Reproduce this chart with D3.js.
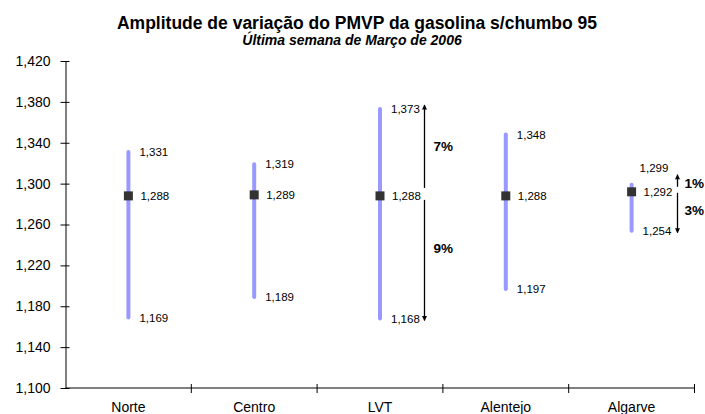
<!DOCTYPE html>
<html><head><meta charset="utf-8">
<script src="https://cdn.jsdelivr.net/npm/d3@7"></script>
<style>
html,body{margin:0;padding:0;background:#fff;}
text{font-family:"Liberation Sans",Arial,sans-serif;fill:#000;}
</style></head>
<body>
<svg id="c" width="705" height="414"></svg>
<script>
const categories = ["Norte","Centro","LVT","Alentejo","Algarve"];
const maxValues = [1.331,1.319,1.373,1.348,1.299];
const avgValues = [1.288,1.289,1.288,1.288,1.292];
const minValues = [1.169,1.189,1.168,1.197,1.254];
const yTicks = [1.100,1.140,1.180,1.220,1.260,1.300,1.340,1.380,1.420];
// percentage annotations
const arrowCats = ["LVT","LVT","Algarve","Algarve"];
const arrowFrom = [1.288,1.288,1.292,1.292];
const arrowTo = [1.373,1.168,1.299,1.254];
const arrowLabels = ["7%","9%","1%","3%"];

const svg = d3.select("#c");
const L = 65.5, R = 694.5, T = 61, B = 388;
const x = d3.scaleBand().domain(categories).range([L,R]);
const y = d3.scaleLinear().domain([1.100,1.420]).range([B,T]);
const fmt = v => d3.format(".3f")(v).replace(".",",");

svg.append("text").attr("x",357).attr("y",29).attr("text-anchor","middle")
  .style("font-size","17.5px").style("font-weight","bold")
  .text("Amplitude de variação do PMVP da gasolina s/chumbo 95");
svg.append("text").attr("x",352).attr("y",45).attr("text-anchor","middle")
  .style("font-size","14px").style("font-weight","bold").style("font-style","italic")
  .text("Última semana de Março de 2006");

// y axis
const ya = svg.append("g").attr("transform",`translate(${L},0)`)
  .call(d3.axisLeft(y).tickValues(yTicks).tickSize(4).tickSizeOuter(0).tickPadding(11)
    .tickFormat(fmt));
ya.selectAll("text").style("font-size","14px").attr("fill","#000");
ya.select(".domain").attr("stroke","#000");
ya.selectAll(".tick line").attr("stroke","#000").attr("x1",4).attr("x2",-5);

// x axis
const xa = svg.append("g").attr("transform",`translate(0,${B})`);
xa.append("line").attr("x1",L).attr("x2",R).attr("stroke","#000");
const bounds = categories.map(c => x(c)+x.bandwidth());
xa.selectAll("line.t").data(bounds).join("line").attr("class","t")
  .attr("x1",d=>d).attr("x2",d=>d).attr("y1",-4).attr("y2",5).attr("stroke","#000");
xa.selectAll("text").data(categories).join("text")
  .attr("x",d=>x(d)+x.bandwidth()/2).attr("y",24).attr("text-anchor","middle")
  .style("font-size","14px").text(d=>d);

const cx = i => x(categories[i]) + x.bandwidth()/2;

// range bars
svg.selectAll("line.rng").data(categories).join("line").attr("class","rng")
  .attr("x1",(d,i)=>cx(i)).attr("x2",(d,i)=>cx(i))
  .attr("y1",(d,i)=>y(maxValues[i])).attr("y2",(d,i)=>y(minValues[i]))
  .attr("stroke","#9999ff").attr("stroke-width",4).attr("stroke-linecap","round");

// avg squares
svg.selectAll("rect.avg").data(categories).join("rect").attr("class","avg")
  .attr("x",(d,i)=>cx(i)-4.5).attr("y",(d,i)=>y(avgValues[i])-4.5)
  .attr("width",9).attr("height",9).attr("fill","#333333");

// labels
const lbl = svg.append("g");
categories.forEach((c,i)=>{
  const isAlg = c==="Algarve";
  const lx = cx(i) + 11;
  let ymax = y(maxValues[i]);
  if (isAlg) ymax -= 17;
  lbl.append("text").attr("x",isAlg?lx-3:lx).attr("y",ymax).attr("dy","0.35em").style("font-size","11.5px").text(fmt(maxValues[i]));
  lbl.append("text").attr("x",lx+1).attr("y",y(avgValues[i])).attr("dy","0.35em").style("font-size","11.5px").text(fmt(avgValues[i]));
  lbl.append("text").attr("x",lx).attr("y",y(minValues[i])).attr("dy","0.35em").style("font-size","11.5px").text(fmt(minValues[i]));
});

// arrows
const defs = svg.append("defs");
defs.append("marker").attr("id","ah").attr("viewBox","0 0 10 10").attr("refX",9).attr("refY",5)
  .attr("markerWidth",6).attr("markerHeight",5).attr("markerUnits","userSpaceOnUse").attr("orient","auto")
  .append("path").attr("d","M0,0L10,5L0,10z").attr("fill","#000");
const ax = {"LVT":424.5,"Algarve":677.5};
arrowCats.forEach((c,k)=>{
  const up = arrowTo[k] > arrowFrom[k];
  const alg = c==="Algarve";
  const y0 = y(arrowFrom[k]) + (up ? (alg?-5:-8) : (alg?1:4));
  const y1 = y(arrowTo[k]) + (up ? (alg ? -10 : -4) : 2);
  svg.append("line").attr("x1",ax[c]).attr("x2",ax[c]).attr("y1",y0).attr("y2",y1)
    .attr("stroke","#000").attr("stroke-width",1.3).attr("marker-end","url(#ah)");
  let ly;
  if (alg) ly = up ? y0 - 4 : y0 + 17;
  else ly = up ? (y0+y1)/2 : y0 + 48;
  svg.append("text").attr("x",ax[c]+ (alg?7:9)).attr("y",ly).attr("dy","0.35em")
    .style("font-size","13.5px").style("font-weight","bold").text(arrowLabels[k]);
});
</script>
</body></html>
